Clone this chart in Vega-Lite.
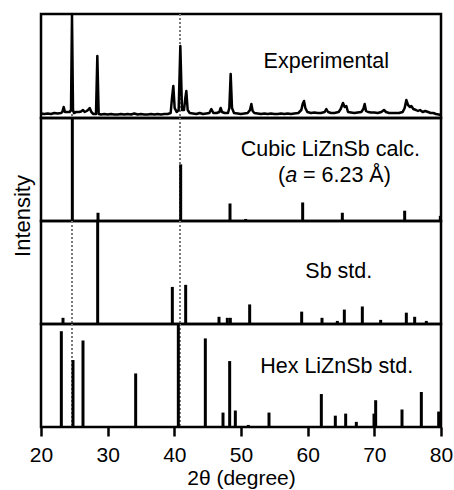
{
  "$schema": "https://vega.github.io/schema/vega-lite/v6.json",
  "padding": {"left": 9, "top": 11, "right": 5, "bottom": 2},
  "background": "white",
  "spacing": 0,
  "bounds": "flush",
  "config": {
    "font": "Liberation Sans",
    "view": {"stroke": "black", "strokeWidth": 2.5}
  },
  "datasets": {
    "guides": [{"t": 24.65}, {"t": 40.85}],
    "exp": [
      {"t": 20.0, "i": 4.5}, {"t": 20.5, "i": 4}, {"t": 21.0, "i": 4.5}, {"t": 21.5, "i": 4}, {"t": 22.0, "i": 5},
      {"t": 22.5, "i": 4.5}, {"t": 23.0, "i": 5}, {"t": 23.2, "i": 6}, {"t": 23.4, "i": 11}, {"t": 23.6, "i": 6},
      {"t": 23.9, "i": 6}, {"t": 24.3, "i": 6}, {"t": 24.5, "i": 8}, {"t": 24.65, "i": 103}, {"t": 24.8, "i": 8},
      {"t": 24.95, "i": 5}, {"t": 25.3, "i": 6}, {"t": 25.7, "i": 6}, {"t": 26.0, "i": 6.5}, {"t": 26.3, "i": 8},
      {"t": 26.55, "i": 6}, {"t": 26.85, "i": 7}, {"t": 27.05, "i": 8}, {"t": 27.3, "i": 10}, {"t": 27.55, "i": 6},
      {"t": 27.85, "i": 4}, {"t": 28.25, "i": 4}, {"t": 28.45, "i": 62}, {"t": 28.65, "i": 4}, {"t": 29.0, "i": 3.5},
      {"t": 29.5, "i": 4}, {"t": 30.0, "i": 3.5}, {"t": 30.5, "i": 4}, {"t": 31.0, "i": 3.5}, {"t": 31.5, "i": 3.5},
      {"t": 32.0, "i": 4}, {"t": 32.5, "i": 3.5}, {"t": 33.0, "i": 4}, {"t": 33.5, "i": 3.5}, {"t": 34.0, "i": 4.5},
      {"t": 34.5, "i": 3.5}, {"t": 35.0, "i": 4}, {"t": 35.5, "i": 3.5}, {"t": 36.0, "i": 3.5}, {"t": 36.5, "i": 4},
      {"t": 37.0, "i": 3.5}, {"t": 37.5, "i": 4}, {"t": 38.0, "i": 3.5}, {"t": 38.5, "i": 4}, {"t": 39.0, "i": 4},
      {"t": 39.45, "i": 5}, {"t": 39.65, "i": 20}, {"t": 39.85, "i": 32}, {"t": 40.05, "i": 10}, {"t": 40.35, "i": 6},
      {"t": 40.65, "i": 8}, {"t": 40.9, "i": 72}, {"t": 41.15, "i": 8}, {"t": 41.45, "i": 8}, {"t": 41.65, "i": 20},
      {"t": 41.8, "i": 27}, {"t": 42.0, "i": 8}, {"t": 42.3, "i": 5}, {"t": 42.8, "i": 4.5}, {"t": 43.3, "i": 4},
      {"t": 43.8, "i": 5}, {"t": 44.3, "i": 4}, {"t": 44.8, "i": 4.5}, {"t": 45.25, "i": 5}, {"t": 45.55, "i": 9},
      {"t": 45.85, "i": 5}, {"t": 46.35, "i": 5}, {"t": 46.75, "i": 6}, {"t": 46.95, "i": 10}, {"t": 47.15, "i": 6},
      {"t": 47.55, "i": 5}, {"t": 48.05, "i": 5}, {"t": 48.25, "i": 10}, {"t": 48.45, "i": 44}, {"t": 48.65, "i": 10},
      {"t": 48.95, "i": 5}, {"t": 49.5, "i": 4.5}, {"t": 50.0, "i": 4}, {"t": 50.5, "i": 4.5}, {"t": 51.0, "i": 5},
      {"t": 51.35, "i": 8}, {"t": 51.55, "i": 14}, {"t": 51.75, "i": 7}, {"t": 52.0, "i": 5}, {"t": 52.5, "i": 4.5},
      {"t": 53.0, "i": 4}, {"t": 53.5, "i": 4.5}, {"t": 54.0, "i": 4}, {"t": 54.5, "i": 4.5}, {"t": 55.0, "i": 4},
      {"t": 55.5, "i": 4}, {"t": 56.0, "i": 4.5}, {"t": 56.5, "i": 4}, {"t": 57.0, "i": 4.5}, {"t": 57.5, "i": 4},
      {"t": 58.0, "i": 4.5}, {"t": 58.6, "i": 5}, {"t": 59.05, "i": 8}, {"t": 59.25, "i": 14}, {"t": 59.45, "i": 17},
      {"t": 59.65, "i": 10}, {"t": 59.95, "i": 6}, {"t": 60.5, "i": 5}, {"t": 61.0, "i": 5.5}, {"t": 61.5, "i": 5},
      {"t": 62.0, "i": 5}, {"t": 62.55, "i": 6}, {"t": 62.8, "i": 9}, {"t": 63.05, "i": 6}, {"t": 63.5, "i": 5},
      {"t": 64.0, "i": 5}, {"t": 64.65, "i": 6}, {"t": 64.95, "i": 9}, {"t": 65.3, "i": 15}, {"t": 65.55, "i": 11},
      {"t": 65.8, "i": 12}, {"t": 66.05, "i": 6}, {"t": 66.5, "i": 5.5}, {"t": 67.0, "i": 5}, {"t": 67.5, "i": 5.5},
      {"t": 68.05, "i": 6}, {"t": 68.35, "i": 9}, {"t": 68.55, "i": 14}, {"t": 68.75, "i": 7}, {"t": 69.05, "i": 6},
      {"t": 69.5, "i": 5.5}, {"t": 70.0, "i": 5.5}, {"t": 70.5, "i": 5}, {"t": 71.05, "i": 6}, {"t": 71.45, "i": 8},
      {"t": 71.75, "i": 6}, {"t": 72.2, "i": 5}, {"t": 72.7, "i": 5}, {"t": 73.2, "i": 5}, {"t": 73.7, "i": 5},
      {"t": 74.25, "i": 6}, {"t": 74.55, "i": 10}, {"t": 74.8, "i": 18}, {"t": 75.05, "i": 13}, {"t": 75.35, "i": 11},
      {"t": 75.55, "i": 12}, {"t": 75.85, "i": 9}, {"t": 76.25, "i": 8}, {"t": 76.55, "i": 7}, {"t": 76.85, "i": 8},
      {"t": 77.25, "i": 6}, {"t": 77.65, "i": 7}, {"t": 78.05, "i": 6}, {"t": 78.45, "i": 5}, {"t": 78.85, "i": 5},
      {"t": 79.25, "i": 4}, {"t": 79.65, "i": 3.5}, {"t": 80.0, "i": 3}
    ],
    "cubic": [
      {"t": 24.7, "i": 100}, {"t": 28.55, "i": 8}, {"t": 40.95, "i": 55}, {"t": 48.35, "i": 17}, {"t": 50.7, "i": 2},
      {"t": 59.25, "i": 18}, {"t": 65.2, "i": 8}, {"t": 67.1, "i": 1}, {"t": 74.55, "i": 10}, {"t": 79.9, "i": 5}
    ],
    "sb": [
      {"t": 23.3, "i": 6}, {"t": 28.5, "i": 100}, {"t": 39.7, "i": 36}, {"t": 41.7, "i": 38}, {"t": 46.7, "i": 7},
      {"t": 47.95, "i": 6}, {"t": 48.4, "i": 6}, {"t": 51.3, "i": 19}, {"t": 59.1, "i": 12}, {"t": 62.15, "i": 6},
      {"t": 64.45, "i": 3}, {"t": 65.5, "i": 14}, {"t": 68.2, "i": 17}, {"t": 70.95, "i": 4}, {"t": 74.8, "i": 11},
      {"t": 76.05, "i": 7}, {"t": 77.8, "i": 3}
    ],
    "hex": [
      {"t": 23.05, "i": 93}, {"t": 24.8, "i": 65}, {"t": 26.3, "i": 84}, {"t": 34.2, "i": 52}, {"t": 40.6, "i": 100},
      {"t": 44.65, "i": 86}, {"t": 47.3, "i": 14}, {"t": 48.3, "i": 64}, {"t": 49.15, "i": 16}, {"t": 51.1, "i": 2},
      {"t": 54.2, "i": 14}, {"t": 56.8, "i": 1}, {"t": 62.05, "i": 32}, {"t": 64.15, "i": 11}, {"t": 65.7, "i": 13},
      {"t": 67.3, "i": 5}, {"t": 69.95, "i": 13}, {"t": 70.2, "i": 26}, {"t": 74.15, "i": 17}, {"t": 77.05, "i": 34},
      {"t": 79.65, "i": 15}
    ]
  },
  "vconcat": [
    {
      "width": 400,
      "height": 104,
      "encoding": {
        "x": {"field": "t", "type": "quantitative", "scale": {"domain": [20, 80], "nice": false}, "axis": null}
      },
      "layer": [
        {
          "data": {"name": "guides"},
          "mark": {"type": "rule", "color": "#7a7a7a", "strokeDash": [2, 2], "strokeWidth": 2},
          "encoding": {}
        },
        {
          "data": {"name": "exp"},
          "mark": {"type": "line", "color": "black", "strokeWidth": 2.5, "strokeJoin": "round"},
          "encoding": {
            "y": {"field": "i", "type": "quantitative", "scale": {"domain": [0, 104], "nice": false}, "axis": null}
          }
        },
        {
          "data": {"values": [{"label": "Experimental", "t": 62.8, "i": 50}]},
          "mark": {"type": "text", "fontSize": 21.5, "align": "center", "baseline": "alphabetic", "color": "black"},
          "encoding": {
            "y": {"field": "i", "type": "quantitative", "axis": null},
            "text": {"field": "label"}
          }
        }
      ]
    },
    {
      "width": 400,
      "height": 103,
      "encoding": {
        "x": {"field": "t", "type": "quantitative", "scale": {"domain": [20, 80], "nice": false}, "axis": null}
      },
      "layer": [
        {
          "data": {"name": "guides"},
          "mark": {"type": "rule", "color": "#7a7a7a", "strokeDash": [2, 2], "strokeWidth": 2},
          "encoding": {}
        },
        {
          "encoding": {
            "y": {
              "field": "i", "type": "quantitative", "scale": {"domain": [0, 100], "nice": false},
              "axis": {
                "title": "Intensity", "labels": false, "ticks": false, "domain": false, "grid": false,
                "titleFontSize": 22, "titleFontWeight": "normal", "titleColor": "black",
                "titleAngle": -90, "titleBaseline": "bottom", "titleAlign": "center",
                "titleX": -7, "titleY": 97.5
              }
            }
          },
          "layer": [
            {
              "data": {"name": "cubic"},
              "mark": {"type": "rule", "color": "black", "strokeWidth": 3},
              "encoding": {"y2": {"datum": 0}}
            },
            {
              "data": {"values": [{"label": "Cubic LiZnSb calc.", "t": 63.4, "i": 63.1}]},
              "mark": {"type": "text", "fontSize": 21.5, "align": "center", "baseline": "alphabetic", "color": "black"},
              "encoding": {"text": {"field": "label"}}
            },
            {
              "data": {"values": [{"label": "(", "t": 56.63, "i": 38.3}]},
              "mark": {"type": "text", "fontSize": 21.5, "align": "right", "baseline": "alphabetic", "color": "black"},
              "encoding": {"text": {"field": "label"}}
            },
            {
              "data": {"values": [{"label": "a", "t": 56.63, "i": 38.3}]},
              "mark": {"type": "text", "fontSize": 21.5, "align": "left", "baseline": "alphabetic", "fontStyle": "italic", "color": "black"},
              "encoding": {"text": {"field": "label"}}
            },
            {
              "data": {"values": [{"label": "= 6.23 Å)", "t": 59.3, "i": 38.3}]},
              "mark": {"type": "text", "fontSize": 21.5, "align": "left", "baseline": "alphabetic", "color": "black"},
              "encoding": {"text": {"field": "label"}}
            }
          ]
        }
      ]
    },
    {
      "width": 400,
      "height": 103,
      "encoding": {
        "x": {"field": "t", "type": "quantitative", "scale": {"domain": [20, 80], "nice": false}, "axis": null}
      },
      "layer": [
        {
          "data": {"name": "guides"},
          "mark": {"type": "rule", "color": "#7a7a7a", "strokeDash": [2, 2], "strokeWidth": 2},
          "encoding": {}
        },
        {
          "data": {"name": "sb"},
          "mark": {"type": "rule", "color": "black", "strokeWidth": 3},
          "encoding": {
            "y": {"field": "i", "type": "quantitative", "scale": {"domain": [0, 100], "nice": false}, "axis": null},
            "y2": {"datum": 0}
          }
        },
        {
          "data": {"values": [{"label": "Sb std.", "t": 64.67, "i": 45}]},
          "mark": {"type": "text", "fontSize": 21.5, "align": "center", "baseline": "alphabetic", "color": "black"},
          "encoding": {
            "y": {"field": "i", "type": "quantitative", "axis": null},
            "text": {"field": "label"}
          }
        }
      ]
    },
    {
      "width": 400,
      "height": 103,
      "encoding": {
        "x": {
          "field": "t", "type": "quantitative", "scale": {"domain": [20, 80], "nice": false},
          "axis": {
            "title": "2θ (degree)", "values": [20, 30, 40, 50, 60, 70, 80], "grid": false, "domain": false,
            "tickSize": 9, "tickWidth": 2.5, "tickColor": "black",
            "labelFontSize": 21, "labelColor": "black", "labelPadding": 8, "labelFlush": false,
            "titleFontSize": 21, "titleFontWeight": "normal", "titleColor": "black", "titlePadding": 2
          }
        }
      },
      "layer": [
        {
          "data": {"name": "guides"},
          "mark": {"type": "rule", "color": "#7a7a7a", "strokeDash": [2, 2], "strokeWidth": 2},
          "encoding": {}
        },
        {
          "data": {"name": "hex"},
          "mark": {"type": "rule", "color": "black", "strokeWidth": 3},
          "encoding": {
            "y": {"field": "i", "type": "quantitative", "scale": {"domain": [0, 100], "nice": false}, "axis": null},
            "y2": {"datum": 0}
          }
        },
        {
          "data": {"values": [{"label": "Hex LiZnSb std.", "t": 64.35, "i": 52.1}]},
          "mark": {"type": "text", "fontSize": 21.5, "align": "center", "baseline": "alphabetic", "color": "black"},
          "encoding": {
            "y": {"field": "i", "type": "quantitative", "axis": null},
            "text": {"field": "label"}
          }
        }
      ]
    }
  ]
}
